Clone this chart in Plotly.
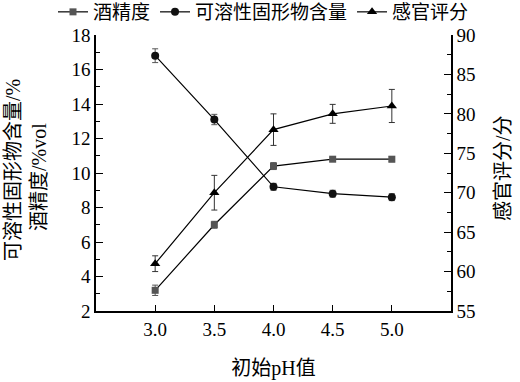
import plotly.graph_objects as go

ph = [3.0, 3.5, 4.0, 4.5, 5.0]
alcohol = [3.2, 7.0, 10.4, 10.8, 10.8]
alcohol_err = [0.3, 0.2, 0.2, 0.1, 0.15]
solids = [16.8, 13.1, 9.2, 8.8, 8.6]
solids_err = [0.4, 0.3, 0.2, 0.2, 0.2]
sensory = [61.0, 70.0, 78.0, 80.0, 81.0]
sensory_err = [1.0, 2.2, 2.0, 1.2, 2.1]

FONT = "Liberation Serif, Times New Roman, Noto Sans CJK SC"

ML, MR, MT, MB = 96, 69, 35, 71
W, H = 520, 382
PW, PH = W - ML - MR, H - MT - MB


def px_x(x):
    return (x - ML) / PW


def px_y(y):
    return (H - MB - y) / PH


fig = go.Figure()
fig.add_trace(go.Scatter(
    x=ph, y=alcohol, name="酒精度", mode="lines+markers",
    line=dict(color="black", width=1.2),
    marker=dict(symbol="square", size=7, color="#555555"),
    error_y=dict(type="data", array=alcohol_err, color="#555555", thickness=1, width=3),
))
fig.add_trace(go.Scatter(
    x=ph, y=solids, name="可溶性固形物含量", mode="lines+markers",
    line=dict(color="black", width=1.2),
    marker=dict(symbol="circle", size=8, color="#111111"),
    error_y=dict(type="data", array=solids_err, color="#555555", thickness=1, width=3),
))
fig.add_trace(go.Scatter(
    x=ph, y=sensory, name="感官评分", mode="lines+markers", yaxis="y2",
    line=dict(color="black", width=1.2),
    marker=dict(symbol="triangle-up", size=9, color="black"),
    error_y=dict(type="data", array=sensory_err, color="#333333", thickness=1, width=3),
))

axis_common = dict(showgrid=False, zeroline=False, showline=True, linecolor="black",
                   linewidth=1.5, ticks="inside", tickcolor="black", tickwidth=1.2,
                   automargin=False,
                   tickfont=dict(family=FONT, size=19, color="black"))

TITLE_FONT = dict(family=FONT, size=20, color="black")

fig.update_layout(
    width=W, height=H,
    margin=dict(l=ML, r=MR, t=MT, b=MB, autoexpand=False),
    paper_bgcolor="white", plot_bgcolor="white",
    font=dict(family=FONT, color="black"),
    showlegend=True,
    legend=dict(orientation="h", x=px_x(53), xanchor="left", y=px_y(12), yanchor="middle",
                font=dict(family=FONT, size=19, color="black"),
                itemwidth=30, tracegroupgap=0, bgcolor="rgba(0,0,0,0)"),
    xaxis=dict(range=[2.5, 5.5], tickvals=ph, ticktext=[f"{v:.1f}" for v in ph],
               ticklen=6, **axis_common,
               title=dict(text="初始pH值", font=TITLE_FONT, standoff=22)),
    yaxis=dict(range=[2, 18], dtick=2, tick0=2, ticklen=7,
               minor=dict(dtick=1, ticks="inside", ticklen=4, tickcolor="black"),
               **axis_common),
    yaxis2=dict(range=[55, 90], dtick=5, tick0=55, ticklen=7, overlaying="y", side="right",
                minor=dict(dtick=2.5, ticks="inside", ticklen=4, tickcolor="black"),
                **axis_common),
    annotations=[
        dict(text="可溶性固形物含量/%", x=px_x(13), y=px_y(170), xref="paper", yref="paper",
             xanchor="center", yanchor="middle",
             showarrow=False, textangle=-90, font=TITLE_FONT),
        dict(text="酒精度/%vol", x=px_x(39), y=px_y(177), xref="paper", yref="paper",
             xanchor="center", yanchor="middle",
             showarrow=False, textangle=-90, font=TITLE_FONT),
        dict(text="感官评分/分", x=px_x(503), y=px_y(168), xref="paper", yref="paper",
             xanchor="center", yanchor="middle",
             showarrow=False, textangle=-90, font=TITLE_FONT),
    ],
)

fig.write_html("out.html", config={"displayModeBar": False},
               post_script="document.body.style.margin='0';")
